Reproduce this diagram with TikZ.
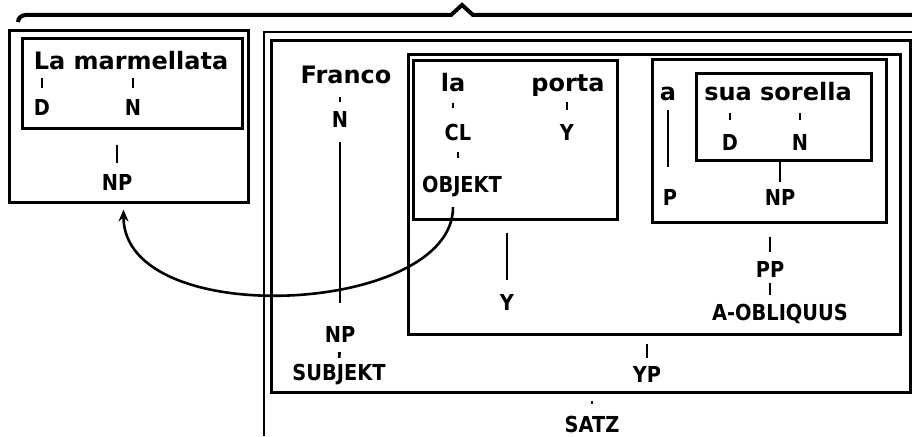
\documentclass[tikz,border=0pt]{standalone}
\usepackage{fontspec}
\newfontfamily\wordfont{DejaVu Sans Bold}
\newfontfamily\catfont[FakeStretch=0.88]{DejaVu Sans Bold}
\usetikzlibrary{positioning, arrows.meta, fit}

\begin{document}
\begin{tikzpicture}[
  x=1pt, y=-1pt,
  word/.style={anchor=base, inner sep=0pt, text height=17pt, text depth=0pt,
               font=\wordfont\fontsize{24}{28}\selectfont},
  cat/.style={anchor=base, inner sep=0pt, text height=16pt, text depth=0pt,
              font=\catfont\fontsize{22}{26}\selectfont},
  box/.style={draw, line width=3pt, inner sep=0pt},
  twig/.style 2 args={line width=2.6pt, shorten <=#1pt, shorten >=#2pt},
  move/.style={line width=2.6pt, -{Stealth[length=12pt, width=10pt]},
               shorten <=15pt, shorten >=6pt},
]
\useasboundingbox (0,0) rectangle (912,436);

% Brace over both parts
\draw[line width=4pt] (18,22) to[out=90, in=180] (26,15) -- (451,15) -- (462,5) -- (473,15) -- (912,15);

% Left part: topicalised NP
\node[box, fit={(9,31) (248,202)}] (marmbox) {};
\node[box, fit={(22,39) (242,128)}] (marmin) {};
\node[word] (wMarm) at (131,70) {La marmellata};
\node[cat] (cD1) at (42,115) {D};
\node[cat] (cN1) at (133,115) {N};
\node[cat] (cNP1) at (117,190) {NP};
\draw[twig={8}{11}] (cD1 |- wMarm.south) -- (cD1.north);
\draw[twig={8}{11}] (cN1 |- wMarm.south) -- (cN1.north);
\draw[twig={15}{11}] (cNP1 |- marmin.south) -- (cNP1.north);

% Right part: SATZ, VP, V'
\draw[line width=2.6pt] (912,32) -- (264,32) -- (264,436);
\node[box, fit={(271,41) (910,392)}] (vpbox) {};
\node[box, fit={(408,55) (900,334)}] (vbarbox) {};
\node[box, fit={(413,61) (617,219)}] (objbox) {};
\node[box, fit={(652,60) (886,222)}] (ppbox) {};
\node[box, fit={(696,73) (871,160)}] (sorbox) {};

% Subject
\node[word] (wFranco) at (346,83) {Franco};
\node[cat] (cN2) at (340,127) {N};
\node[cat] (cNP2) at (340,342) {NP};
\node[cat] (cSubj) at (339,380) {SUBJEKT};
\draw[twig={14}{9}] (cN2 |- wFranco.south) -- (cN2.north);
\draw[twig={15}{23}] (cN2.south) -- (cNP2.north);
\draw[twig={10}{6}] (cNP2.south) -- (cSubj.north);

% Clitic object and verb
\node[word] (wLa) at (453,92) {la};
\node[word] (wPorta) at (568,92) {porta};
\node[cat] (cCL) at (458,140) {CL};
\node[cat] (cObj) at (462,192) {OBJEKT};
\node[cat] (cV1) at (567,140) {Y};
\draw[twig={11}{16}] (wLa.south) -- (wLa |- cCL.north);
\draw[twig={12}{18}] (cCL.south) -- (cCL |- cObj.north);
\draw[twig={10}{14}] (cV1 |- wPorta.south) -- (cV1.north);

% Prepositional phrase
\node[word] (wA) at (668,100) {a};
\node[word] (wSorella) at (778,100) {sua sorella};
\node[cat] (cD2) at (730,150) {D};
\node[cat] (cN3) at (800,150) {N};
\node[cat] (cP) at (670,205) {P};
\node[cat] (cNP3) at (780,205) {NP};
\draw[twig={10}{22}] (wA.south) -- (wA |- cP.north);
\draw[twig={13}{14}] (cD2 |- wSorella.south) -- (cD2.north);
\draw[twig={13}{14}] (cN3 |- wSorella.south) -- (cN3.north);
\draw[twig={0}{7}] (cNP3 |- sorbox.south) -- (cNP3.north);

% Labels under the boxes
\node[cat] (cV2) at (507,310) {Y};
\node[cat] (cPP) at (770,277) {PP};
\node[cat] (cObl) at (780,320) {A-OBLIQUUS};
\node[cat] (cVP) at (647,382) {YP};
\node[cat] (cSatz) at (592,432) {SATZ};
\draw[twig={12}{14}] (cV2 |- objbox.south) -- (cV2.north);
\draw[twig={13}{9}] (cPP |- ppbox.south) -- (cPP.north);
\draw[twig={6}{9}] (cPP.south) -- (cPP |- cObl.north);
\draw[twig={8}{8}] (cVP |- vbarbox.south) -- (cVP.north);
\draw[twig={7}{12}] (cSatz |- vpbox.south) -- (cSatz.north);

% Movement of the object
\draw[move] ([xshift=-9pt]cObj.south) .. controls +(0,123) and +(0,128) .. ([xshift=-5pt]marmbox.south);

\end{tikzpicture}
\end{document}
